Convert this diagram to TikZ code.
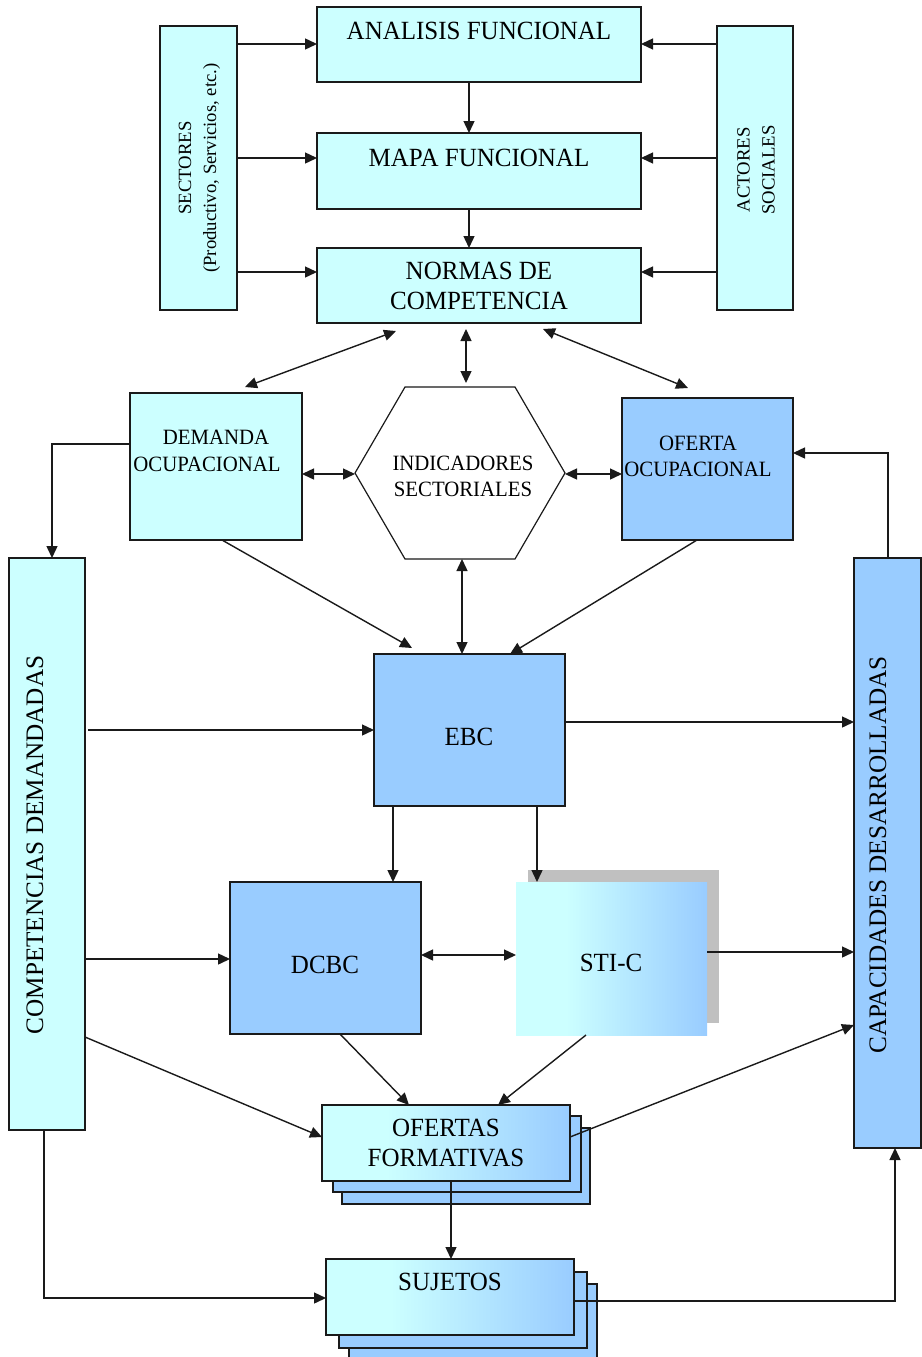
\documentclass[tikz,border=0pt]{standalone}
\usepackage{fontspec}
\setmainfont{Liberation Serif}
\usetikzlibrary{arrows.meta,calc}
\definecolor{paleCyan}{HTML}{CCFFFF}
\definecolor{skyBlue}{HTML}{99CCFF}
\definecolor{shadowGray}{HTML}{C0C0C0}
\definecolor{edge}{HTML}{1A1A1A}
% cyan on the left third, fading to blue on the right
\pgfdeclarehorizontalshading{cyanblue}{100bp}{color(0bp)=(paleCyan); color(38bp)=(paleCyan); color(75bp)=(skyBlue); color(100bp)=(skyBlue)}

\begin{document}
\begin{tikzpicture}[x=1pt,y=-1pt,
  box/.style={draw=edge, line width=1.3pt, inner sep=0pt, outer sep=0pt, rectangle},
  cyanbox/.style={box, fill=paleCyan},
  bluebox/.style={box, fill=skyBlue},
  gradbox/.style={box, shading=cyanblue},
  conn/.style={draw=edge, line width=1.4pt, -{Triangle[length=12pt,width=11pt]}},
  both/.style={draw=edge, line width=1.4pt, {Triangle[length=12pt,width=11pt]}-{Triangle[length=12pt,width=11pt]}},
  big/.style={font=\fontsize{25}{29}\selectfont, align=center, inner sep=0pt, yscale=1.05},
  upright/.style={font=\fontsize{25.2}{29}\selectfont, align=center, inner sep=0pt, rotate=90},
  mid/.style={font=\fontsize{20.8}{25}\selectfont, align=center, inner sep=0pt, yscale=1.05},
  small/.style={font=\fontsize{18.7}{25}\selectfont, align=center, inner sep=0pt},
]
\useasboundingbox (0,0) rectangle (921,1357);
\fill[white] (0,0) rectangle (921,1357);

% ---- top column ----
\node[cyanbox, minimum width=324pt, minimum height=75pt] (af) at (479,44.5) {};
\node[big] (taf) at (479,31) {ANALISIS FUNCIONAL};
\node[cyanbox, minimum width=324pt, minimum height=76pt] (mf) at (479,171) {};
\node[big] (tmf) at (479,158) {MAPA FUNCIONAL};
\node[cyanbox, minimum width=324pt, minimum height=75pt] (nc) at (479,285.5) {};
\node[big] (tnc) at (479,286) {NORMAS DE\\COMPETENCIA};

\node[cyanbox, minimum width=77pt, minimum height=284pt] (sec) at (198.5,168) {};
\node[small, rotate=90] (tsec) at (199.5,168) {SECTORES\\(Productivo, Servicios, etc.)};
\node[cyanbox, minimum width=76pt, minimum height=284pt] (act) at (755,168) {};
\node[small, rotate=90] (tact) at (756,170) {ACTORES\\SOCIALES};

% ---- middle row ----
\node[cyanbox, minimum width=172pt, minimum height=147pt] (dem) at (216,466.5) {};
\node[mid] (tdem) at (207,451) {\hspace*{18pt}DEMANDA\\OCUPACIONAL};
\node[bluebox, minimum width=171pt, minimum height=142pt] (of) at (707.5,469) {};
\node[mid] (tof) at (698,456) {OFERTA\\OCUPACIONAL};

\node[minimum width=210pt, minimum height=172pt, inner sep=0pt, outer sep=0pt] (hex) at (460,473) {};
\draw[edge, line width=1.2pt, fill=white]
  (hex.west) -- (405,387) -- (515,387) -- (hex.east) -- (515,559) -- (405,559) -- cycle;
\node[mid] (thex) at (463,476) {INDICADORES\\SECTORIALES};

% ---- side columns ----
\node[cyanbox, minimum width=76pt, minimum height=572pt] (cd) at (47,844) {};
\node[upright] (tcd) at (35,845) {COMPETENCIAS DEMANDADAS};
\node[bluebox, minimum width=67pt, minimum height=590pt] (cap) at (887.5,853) {};
\node[upright] (tcap) at (878,855) {CAPACIDADES DESARROLLADAS};

% ---- centre blocks ----
\node[bluebox, minimum width=191pt, minimum height=152pt] (ebc) at (469.5,730) {};
\node[big] (tebc) at (469,737) {EBC};
\node[bluebox, minimum width=191pt, minimum height=152pt] (dcbc) at (325.5,958) {};
\node[big] (tdcbc) at (325,965) {DCBC};
\node[fill=shadowGray, minimum width=191pt, minimum height=153pt, inner sep=0pt, outer sep=0pt] (sticsh) at (623.5,946.5) {};
\node[shading=cyanblue, minimum width=191pt, minimum height=153pt, inner sep=0pt, outer sep=0pt] (stic) at (611.5,958.5) {};
\node[big] (tstic) at (611,963) {STI-C};

% ---- stacked boxes ----
\node[bluebox, minimum width=248pt, minimum height=76pt] (ofb2) at (466,1166) {};
\node[bluebox, minimum width=248pt, minimum height=76pt] (ofb1) at (457,1154) {};
\node[gradbox, minimum width=248pt, minimum height=76pt] (ofr) at (446,1143) {};
\node[big] (tofr) at (446,1143) {OFERTAS\\FORMATIVAS};

\node[bluebox, minimum width=248pt, minimum height=76pt] (sjb2) at (473,1322) {};
\node[bluebox, minimum width=248pt, minimum height=76pt] (sjb1) at (463,1310) {};
\node[gradbox, minimum width=248pt, minimum height=76pt] (suj) at (450,1297) {};
\node[big] (tsuj) at (450,1282) {SUJETOS};

% ---- connectors: top column ----
\draw[conn] (sec.east |- 0,44) -- (af.west |- 0,44);
\draw[conn] (sec.east |- 0,158) -- (mf.west |- 0,158);
\draw[conn] (sec.east |- 0,272) -- (nc.west |- 0,272);
\draw[conn] (act.west |- 0,44) -- (af.east |- 0,44);
\draw[conn] (act.west |- 0,158) -- (mf.east |- 0,158);
\draw[conn] (act.west |- 0,272) -- (nc.east |- 0,272);
\draw[conn] (af.south -| 469,0) -- (mf.north -| 469,0);
\draw[conn] (mf.south -| 469,0) -- (nc.north -| 469,0);

% ---- connectors: standards to middle row ----
\draw[both] ($(nc.south -| 396,0)+(0,8)$) -- ($(dem.north -| 245,0)+(0,-6)$);
\draw[both] ($(nc.south -| 466,0)+(0,6)$) -- ($(hex.north -| 466,0)+(0,-4)$);
\draw[both] ($(nc.south -| 543,0)+(0,6)$) -- ($(of.north -| 688,0)+(0,-10)$);
\draw[both] (dem.east |- 0,474) -- (hex.west |- 0,474);
\draw[both] (hex.east |- 0,474) -- (of.west |- 0,474);

% ---- connectors: feedback loops ----
\draw[conn] (dem.west |- 0,444) -| (cd.north -| 52,0);
\draw[conn] (cap.north -| 888,0) |- (of.east |- 0,453);

% ---- connectors: into EBC and below ----
\draw[conn] (dem.south -| 222,0) -- ($(ebc.north -| 412,0)+(0,-6)$);
\draw[conn] (of.south -| 697,0) -- (ebc.north -| 510,0);
\draw[both] (hex.south -| 462,0) -- (ebc.north -| 462,0);
\draw[conn] ($(cd.east |- 0,730)+(3,0)$) -- (ebc.west |- 0,730);
\draw[conn] (ebc.east |- 0,722) -- (cap.west |- 0,722);
\draw[conn] (ebc.south -| 393,0) -- (dcbc.north -| 393,0);
\draw[conn] (ebc.south -| 537,0) -- (stic.north -| 537,0);
\draw[both] (dcbc.east |- 0,955) -- (stic.west |- 0,955);
\draw[conn] (stic.east |- 0,952) -- (cap.west |- 0,952);
\draw[conn] (cd.east |- 0,959) -- (dcbc.west |- 0,959);
\draw[conn] (cd.east |- 0,1037) -- (ofr.west |- 0,1137);
\draw[conn] (dcbc.south -| 340,0) -- (ofr.north -| 409,0);
\draw[conn] (stic.south -| 586,0) -- (ofr.north -| 498,0);
\draw[conn] (ofr.east |- 0,1137) -- (cap.west |- 0,1025);
\draw[conn] (ofr.south -| 451,0) -- (suj.north -| 451,0);
\draw[conn] (cd.south -| 44,0) |- (suj.west |- 0,1298);
\draw[conn] (suj.east |- 0,1301) -| (cap.south -| 895,0);
\end{tikzpicture}
\end{document}
